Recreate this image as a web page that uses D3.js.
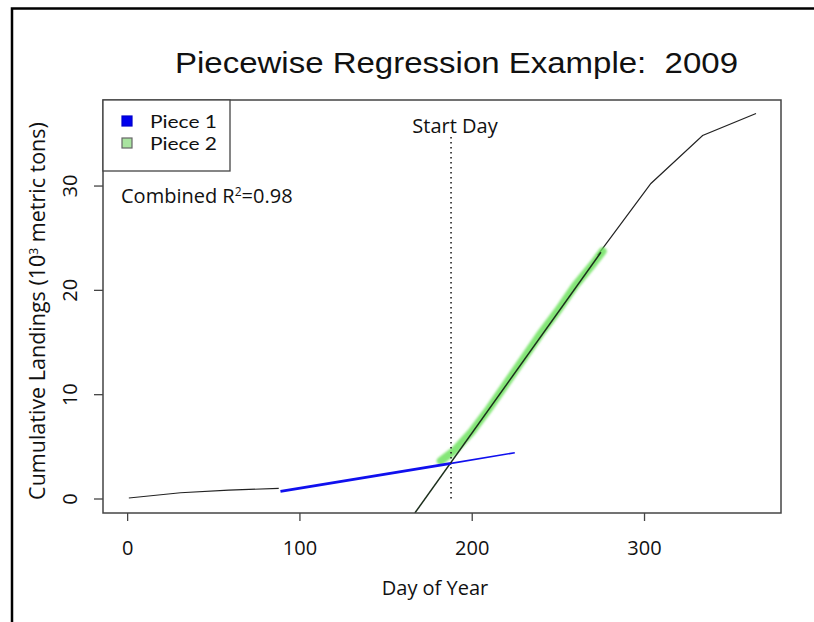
<!DOCTYPE html>
<html>
<head>
<meta charset="utf-8">
<script src="https://cdn.jsdelivr.net/npm/d3@7"></script>
<style>
  html, body { margin: 0; padding: 0; background: #fff; }
  svg { display: block; }
  text { white-space: pre; }
</style>
</head>
<body>
<svg id="chart" width="814" height="622"></svg>
<script>
// ---- data ----
const titleText = "Piecewise Regression Example:  2009";
const xTicks = [0, 100, 200, 300];
const yTicks = [0, 10, 20, 30];

// cumulative landings (black) - visible early and late parts
const earlyDays = [1, 31, 59, 88];
const earlyVals = [0.05, 0.55, 0.80, 0.97];
const lateDays = [273, 304, 334, 365];
const lateVals = [23.3, 30.2, 34.8, 36.9];

// piece 1 (blue): fitted line over its data range and its extension
const piece1Days = [89, 188];
const piece1Vals = [0.68, 3.37];
const piece1ExtDays = [188, 225];
const piece1ExtVals = [3.37, 4.39];

// piece 2 (green): data
const piece2Days = [182, 190, 200, 210, 220, 230, 240, 250, 260, 270, 276];
const piece2Vals = [3.6, 4.6, 6.4, 8.6, 11.0, 13.4, 15.8, 18.0, 20.4, 22.4, 23.7];
// piece 2 fitted regression line
const fit2Days = [167, 275];
const fit2Vals = [-1.39, 23.6];

const startDay = 188;
const startDayRange = [0, 35];

const legendLabels = ["Piece 1", "Piece 2"];
const legendColors = ["#0000ee", "#a9e3a0"];
const r2Text = "0.98";

// ---- drawing ----
const svg = d3.select("#chart");
const x = d3.scaleLinear().domain([-14, 379.5]).range([103, 781]);
const y = d3.scaleLinear().domain([-1.39, 38.2]).range([513, 100]);
const axisFont = "'Open Sans', 'Noto Sans', sans-serif";
const fs = 20;

// outer frame
svg.append("path")
  .attr("d", "M12,640 L12,8.5 L830,8.5")
  .attr("fill", "none").attr("stroke", "#000").attr("stroke-width", 2.5);

// title
svg.append("text")
  .attr("x", 175).attr("y", 73)
  .attr("font-family", "'Liberation Sans', Arial, sans-serif")
  .attr("font-size", 29)
  .attr("textLength", 563).attr("lengthAdjust", "spacingAndGlyphs")
  .attr("fill", "#111")
  .text(titleText);

const defs = svg.append("defs");
defs.append("clipPath").attr("id", "plotclip")
  .append("rect").attr("x", 103).attr("y", 100).attr("width", 678).attr("height", 413);
defs.append("filter").attr("id", "soft")
  .attr("x", "-10%").attr("y", "-10%").attr("width", "120%").attr("height", "120%")
  .append("feGaussianBlur").attr("stdDeviation", 1.2);

const plot = svg.append("g").attr("clip-path", "url(#plotclip)");
const line = d3.line().x(d => x(d[0])).y(d => y(d[1]));
const zip = (a, b) => a.map((d, i) => [d, b[i]]);

// black cumulative data
plot.append("path").datum(zip(earlyDays, earlyVals))
  .attr("d", line).attr("fill", "none").attr("stroke", "#222").attr("stroke-width", 1.2);
plot.append("path").datum(zip(lateDays, lateVals))
  .attr("d", line).attr("fill", "none").attr("stroke", "#222").attr("stroke-width", 1.2);

// green piece 2 data
plot.append("path").datum(zip(piece2Days, piece2Vals))
  .attr("d", line).attr("fill", "none").attr("stroke", "#66e055")
  .attr("stroke-opacity", 0.8).attr("stroke-width", 8)
  .attr("stroke-linecap", "round").attr("filter", "url(#soft)");

// piece 2 regression line
plot.append("path").datum(zip(fit2Days, fit2Vals))
  .attr("d", line).attr("fill", "none").attr("stroke", "#1c2e1c").attr("stroke-width", 1.5);

// blue piece 1
plot.append("path").datum(zip(piece1Days, piece1Vals))
  .attr("d", line).attr("fill", "none").attr("stroke", "#1010ee").attr("stroke-width", 2.8);
plot.append("path").datum(zip(piece1ExtDays, piece1ExtVals))
  .attr("d", line).attr("fill", "none").attr("stroke", "#1010ee").attr("stroke-width", 1.6);

// start day dotted line
plot.append("line")
  .attr("x1", x(startDay)).attr("x2", x(startDay))
  .attr("y1", y(startDayRange[0])).attr("y2", y(startDayRange[1]))
  .attr("stroke", "#222").attr("stroke-width", 1.6)
  .attr("stroke-dasharray", "1.6,3.4");

svg.append("text")
  .attr("x", x(startDay) + 4).attr("y", 133)
  .attr("text-anchor", "middle")
  .attr("font-family", axisFont).attr("font-size", fs).attr("fill", "#111")
  .text("Start Day");

// plot box
svg.append("rect")
  .attr("x", 103).attr("y", 100).attr("width", 678).attr("height", 413)
  .attr("fill", "none").attr("stroke", "#444").attr("stroke-width", 1.5);

// axes
const xAxis = svg.append("g").attr("transform", "translate(0,513)")
  .call(d3.axisBottom(x).tickValues(xTicks).tickSize(8).tickPadding(20));
xAxis.select(".domain").remove();
xAxis.selectAll("line").attr("stroke", "#444").attr("stroke-width", 1.3);
xAxis.selectAll("text").attr("font-family", axisFont).attr("font-size", fs).attr("fill", "#111");

const yAxis = svg.append("g").attr("transform", "translate(103,0)")
  .call(d3.axisLeft(y).tickValues(yTicks).tickSize(9));
yAxis.select(".domain").remove();
yAxis.selectAll("line").attr("stroke", "#444").attr("stroke-width", 1.3);
yAxis.selectAll("text")
  .attr("transform", "rotate(-90)")
  .attr("x", 0).attr("y", -33).attr("dy", "0.35em")
  .attr("text-anchor", "middle")
  .attr("font-family", axisFont).attr("font-size", fs).attr("fill", "#111");

// axis titles
svg.append("text")
  .attr("x", 435).attr("y", 595)
  .attr("text-anchor", "middle")
  .attr("font-family", axisFont).attr("font-size", fs).attr("fill", "#111")
  .text("Day of Year");

const yt = svg.append("text")
  .attr("transform", "translate(37,311) rotate(-90)")
  .attr("dy", "0.35em")
  .attr("text-anchor", "middle")
  .attr("font-family", axisFont).attr("font-size", 21.5).attr("fill", "#111");
yt.append("tspan").text("Cumulative Landings (10");
yt.append("tspan").attr("font-size", 12).attr("dy", -7).text("3");
yt.append("tspan").attr("dy", 7).text(" metric tons)");

// legend
const lg = svg.append("g");
lg.append("rect").attr("x", 103).attr("y", 100).attr("width", 127).attr("height", 71)
  .attr("fill", "#fff").attr("stroke", "#444").attr("stroke-width", 1.3);
legendLabels.forEach((lab, i) => {
  lg.append("rect")
    .attr("x", 122).attr("y", 116 + i * 22).attr("width", 10).attr("height", 10)
    .attr("fill", legendColors[i])
    .attr("stroke", i === 0 ? "#0000cc" : "#666").attr("stroke-width", 1.2);
  lg.append("text")
    .attr("x", 150).attr("y", 128 + i * 22)
    .attr("font-family", "Lato, 'Open Sans', sans-serif").attr("font-size", 18)
    .attr("textLength", 67).attr("lengthAdjust", "spacingAndGlyphs")
    .attr("fill", "#111")
    .text(lab);
});

const r2 = svg.append("text")
  .attr("x", 121).attr("y", 203)
  .attr("font-family", axisFont).attr("font-size", fs).attr("fill", "#111");
r2.append("tspan").text("Combined R");
r2.append("tspan").attr("font-size", 12).attr("dy", -7).text("2");
r2.append("tspan").attr("dy", 7).text("=" + r2Text);
</script>
</body>
</html>
